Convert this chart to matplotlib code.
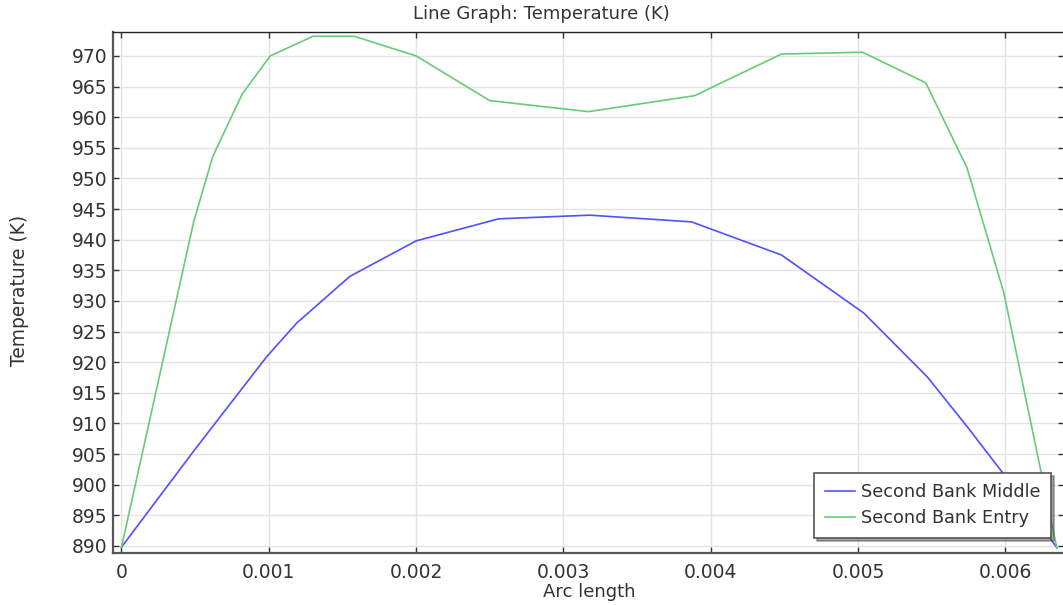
import matplotlib
matplotlib.use("Agg")
import matplotlib.pyplot as plt

plt.rcParams['font.family'] = ['DejaVu Sans']

# Second Bank Middle (blue)
x_middle = [0.0, 0.0005, 0.000986, 0.00119, 0.00155, 0.00200, 0.00256, 0.00318,
            0.00387, 0.00448, 0.00504, 0.00547, 0.00574, 0.00598, 0.00635]
t_middle = [889.8, 905.8, 920.9, 926.4, 934.0, 939.8, 943.4, 944.0,
            942.9, 937.5, 928.0, 917.6, 909.5, 902.0, 889.7]

# Second Bank Entry (green)
x_entry = [0.0, 0.00049, 0.00062, 0.00082, 0.00101, 0.00130, 0.00158, 0.00200,
           0.00250, 0.00317, 0.00389, 0.00448, 0.00503, 0.00546, 0.00574,
           0.00599, 0.00635]
t_entry = [889.8, 942.9, 953.6, 963.8, 970.0, 973.2, 973.2, 970.0,
           962.7, 960.9, 963.5, 970.3, 970.6, 965.6, 951.7,
           931.3, 889.6]

xticks = [0, 0.001, 0.002, 0.003, 0.004, 0.005, 0.006]
xtick_labels = ['0', '0.001', '0.002', '0.003', '0.004', '0.005', '0.006']
yticks = list(range(890, 971, 5))

txt = '#333333'
fig = plt.figure(figsize=(10.63, 6.05), dpi=100)
ax = fig.add_axes([113 / 1063, 52 / 605, 951 / 1063, 521 / 605])

ax.plot(x_middle, t_middle, color='#5050ff', lw=1.2, label='Second Bank Middle')
ax.plot(x_entry, t_entry, color='#66cc77', lw=1.2, label='Second Bank Entry')

ax.set_xlim(-0.0000575, 0.006398)
ax.set_ylim(888.85, 973.9)
ax.set_xticks(xticks)
ax.set_xticklabels(xtick_labels)
ax.set_yticks(yticks)
ax.grid(True, color='#e3e3e3', lw=1)
ax.set_axisbelow(True)

ax.tick_params(direction='in', length=4, width=1, color='#333333',
               labelsize=13.5, labelcolor=txt, top=True, right=True)
ax.tick_params(axis='y', pad=4)
ax.tick_params(axis='x', pad=7)
for s in ['left', 'bottom']:
    ax.spines[s].set_color('#555555')
    ax.spines[s].set_linewidth(1.6)
ax.spines['top'].set_color('#222222')
ax.spines['top'].set_linewidth(1)
ax.spines['right'].set_visible(False)

fig.text(541 / 1063, 1 - 14 / 605, 'Line Graph: Temperature (K)', ha='center',
         va='center', fontsize=13, color=txt)
fig.text(589 / 1063, 1 - 592 / 605, 'Arc length', ha='center', va='center',
         fontsize=13, color=txt)
fig.text(20 / 1063, 1 - 290 / 605, 'Temperature (K)', ha='center', va='center',
         rotation=90, fontsize=13.4, color=txt)

leg = ax.legend(loc='lower right', bbox_to_anchor=(0.9865, 0.029), fontsize=12.7,
                frameon=True, fancybox=False, shadow=True, handlelength=1.7,
                borderpad=0.6, labelspacing=0.45, handletextpad=0.35,
                borderaxespad=0)
leg.get_frame().set_edgecolor('#555555')
leg.get_frame().set_linewidth(1.2)
for t in leg.get_texts():
    t.set_color(txt)

fig.savefig('out.png', dpi=100)
